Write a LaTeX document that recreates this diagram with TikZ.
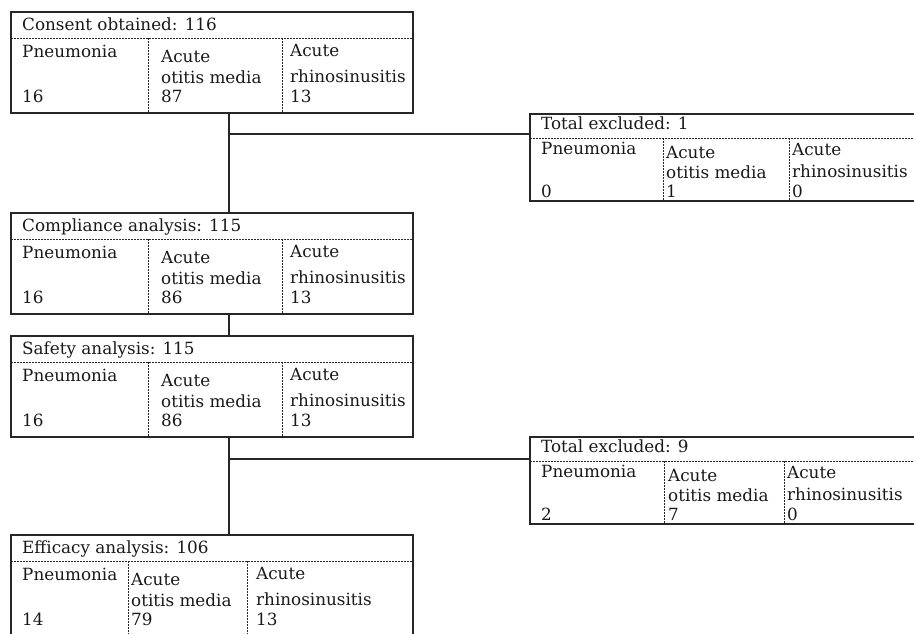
\documentclass[tikz,border=0pt]{standalone}
\usepackage{fontspec}
\setmainfont{DejaVu Serif}
\begin{document}
\begin{tikzpicture}[x=1pt,y=-1pt,
  box/.style={draw=black!85, line width=1.1pt, rectangle, inner sep=0pt, outer sep=0pt, anchor=north west},
  sep/.style={draw=black!85, line width=0.9pt, dash pattern=on 1.6pt off 1.4pt},
  conn/.style={draw=black!85, line width=1.1pt},
  t/.style={anchor=base west, inner sep=0pt, font=\fontsize{16.8}{19}\selectfont, text=black!90}]
\useasboundingbox (0,0) rectangle (914,633);
\clip (0,0) rectangle (914,633);
% ---------- Box 1: consent ----------
\node[box, minimum width=402pt, minimum height=101pt] (b1) at (11,12) {};
\draw[sep] (11,38) -- (413,38);
\draw[sep] (148,38) -- (148,113);
\draw[sep] (282,38) -- (282,113);
\node[t] (b1h) at (22,30) {Consent obtained: 116};
\node[t] (b1a) at (22,57) {Pneumonia};
\node[t] (b1b) at (161,62) {Acute};
\node[t] (b1c) at (161,83) {otitis media};
\node[t] (b1d) at (290,56) {Acute};
\node[t] (b1e) at (290,82) {rhinosinusitis};
\node[t] (b1f) at (22,102) {16};
\node[t] (b1g) at (161,102) {87};
\node[t] (b1i) at (290,102) {13};
% ---------- Box 2: compliance ----------
\node[box, minimum width=402pt, minimum height=101pt] (b2) at (11,213) {};
\draw[sep] (11,239) -- (413,239);
\draw[sep] (148,239) -- (148,314);
\draw[sep] (282,239) -- (282,314);
\node[t] (b2h) at (22,231) {Compliance analysis: 115};
\node[t] (b2a) at (22,258) {Pneumonia};
\node[t] (b2b) at (161,263) {Acute};
\node[t] (b2c) at (161,284) {otitis media};
\node[t] (b2d) at (290,257) {Acute};
\node[t] (b2e) at (290,283) {rhinosinusitis};
\node[t] (b2f) at (22,303) {16};
\node[t] (b2g) at (161,303) {86};
\node[t] (b2i) at (290,303) {13};
% ---------- Box 3: safety ----------
\node[box, minimum width=402pt, minimum height=101pt] (b3) at (11,336) {};
\draw[sep] (11,362) -- (413,362);
\draw[sep] (148,362) -- (148,437);
\draw[sep] (282,362) -- (282,437);
\node[t] (b3h) at (22,354) {Safety analysis: 115};
\node[t] (b3a) at (22,381) {Pneumonia};
\node[t] (b3b) at (161,386) {Acute};
\node[t] (b3c) at (161,407) {otitis media};
\node[t] (b3d) at (290,380) {Acute};
\node[t] (b3e) at (290,406) {rhinosinusitis};
\node[t] (b3f) at (22,426) {16};
\node[t] (b3g) at (161,426) {86};
\node[t] (b3i) at (290,426) {13};
% ---------- Box 4: efficacy ----------
\node[box, minimum width=402pt, minimum height=101pt] (b4) at (11,535) {};
\draw[sep] (11,561) -- (413,561);
\draw[sep] (128,561) -- (128,640);
\draw[sep] (247,561) -- (247,640);
\node[t] (b4h) at (22,553) {Efficacy analysis: 106};
\node[t] (b4a) at (22,580) {Pneumonia};
\node[t] (b4b) at (131,585) {Acute};
\node[t] (b4c) at (131,606) {otitis media};
\node[t] (b4d) at (256,579) {Acute};
\node[t] (b4e) at (256,605) {rhinosinusitis};
\node[t] (b4f) at (22,625) {14};
\node[t] (b4g) at (131,625) {79};
\node[t] (b4i) at (256,625) {13};
% ---------- Right box 1: excluded 1 ----------
\node[box, minimum width=395pt, minimum height=87pt] (r1) at (530,114) {};
\draw[sep] (530,138) -- (925,138);
\draw[sep] (663,138) -- (663,201);
\draw[sep] (789,138) -- (789,201);
\node[t] (r1h) at (541,129) {Total excluded: 1};
\node[t] (r1a) at (541,154) {Pneumonia};
\node[t] (r1b) at (666,158) {Acute};
\node[t] (r1c) at (666,178) {otitis media};
\node[t] (r1d) at (792,155) {Acute};
\node[t] (r1e) at (792,177) {rhinosinusitis};
\node[t] (r1f) at (541,197) {0};
\node[t] (r1g) at (666,197) {1};
\node[t] (r1i) at (792,197) {0};
% ---------- Right box 2: excluded 9 ----------
\node[box, minimum width=395pt, minimum height=87pt] (r2) at (530,437) {};
\draw[sep] (530,461) -- (925,461);
\draw[sep] (664,461) -- (664,524);
\draw[sep] (784,461) -- (784,524);
\node[t] (r2h) at (541,452) {Total excluded: 9};
\node[t] (r2a) at (541,477) {Pneumonia};
\node[t] (r2b) at (668,481) {Acute};
\node[t] (r2c) at (668,501) {otitis media};
\node[t] (r2d) at (787,478) {Acute};
\node[t] (r2e) at (787,500) {rhinosinusitis};
\node[t] (r2f) at (541,520) {2};
\node[t] (r2g) at (668,520) {7};
\node[t] (r2i) at (787,520) {0};
% ---------- Connectors ----------
\coordinate (j1) at (229,134);
\coordinate (j2) at (229,459);
\draw[conn] (b1.south -| j1) -- (b2.north -| j1);
\draw[conn] (j1) -- (r1.west |- j1);
\draw[conn] (b2.south -| j1) -- (b3.north -| j1);
\draw[conn] (b3.south -| j2) -- (b4.north -| j2);
\draw[conn] (j2) -- (r2.west |- j2);
\end{tikzpicture}
\end{document}
